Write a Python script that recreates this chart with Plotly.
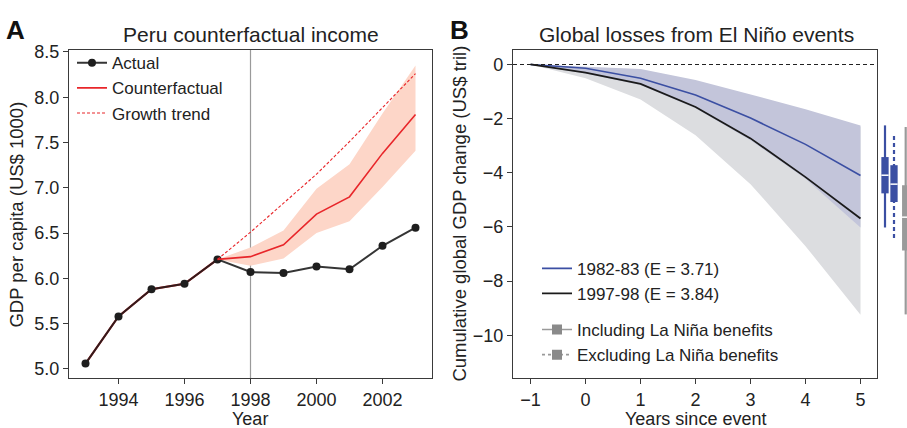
import plotly.graph_objects as go

# ---------------- Panel A data ----------------
years = [1993, 1994, 1995, 1996, 1997, 1998, 1999, 2000, 2001, 2002, 2003]
actual = [5.06, 5.58, 5.88, 5.94, 6.21, 6.07, 6.06, 6.13, 6.10, 6.36, 6.56]
cf_years = [1997, 1998, 1999, 2000, 2001, 2002, 2003]
counterfactual = [6.21, 6.24, 6.37, 6.71, 6.90, 7.38, 7.81]
cf_low = [6.21, 6.14, 6.22, 6.50, 6.63, 7.01, 7.41]
cf_high = [6.21, 6.34, 6.53, 6.99, 7.26, 7.82, 8.35]
growth_trend = [6.21, 6.51, 6.83, 7.15, 7.51, 7.88, 8.26]

# ---------------- Panel B data ----------------
t_years = [-1, 0, 1, 2, 3, 4, 5]
e8283 = [0, -0.14, -0.51, -1.13, -1.98, -2.95, -4.10]
e8283_low = [0, -0.33, -0.76, -1.62, -2.80, -4.22, -6.02]
e8283_high = [0, -0.08, -0.17, -0.57, -1.11, -1.65, -2.25]
e9798 = [0, -0.30, -0.72, -1.57, -2.73, -4.16, -5.69]
e9798_low = [0, -0.51, -1.29, -2.61, -4.42, -6.71, -9.24]
e9798_high = [0, -0.09, -0.19, -0.60, -1.14, -1.70, -2.30]

# box summaries at year 5: [lower whisker, q1, median, q3, upper whisker]
box_names = ["1982-83 incl.", "1982-83 excl.", "1997-98 incl."]
box_pos = [7.0, 16.0, 27.7]
box_low = [-6.02, -6.41, -9.23]
box_q1 = [-4.76, -5.08, -6.87]
box_med = [-4.09, -4.42, -5.64]
box_q3 = [-3.42, -3.72, -4.46]
box_high = [-2.25, -2.53, -2.31]
box_colors = ["#3b4fa3", "#3b4fa3", "#9a9a9a"]
box_dash = ["solid", "4px,3px", "solid"]

FONT = "Liberation Sans, Arial, sans-serif"
RED = "#e8262a"
BLUE = "#3b4fa3"
TXT = "#222222"

fig = go.Figure()

# ---- Panel A ----
fig.add_trace(go.Scatter(x=cf_years, y=cf_high, mode="lines", line=dict(width=0),
                         showlegend=False, hoverinfo="skip", xaxis="x", yaxis="y"))
fig.add_trace(go.Scatter(x=cf_years, y=cf_low, mode="lines", line=dict(width=0),
                         fill="tonexty", fillcolor="#fdd6c8", showlegend=False,
                         hoverinfo="skip", xaxis="x", yaxis="y"))
fig.add_trace(go.Scatter(x=years[:5], y=actual[:5], mode="lines", line=dict(color=RED, width=2),
                         showlegend=False, hoverinfo="skip", xaxis="x", yaxis="y"))
fig.add_trace(go.Scatter(x=years, y=actual, mode="lines+markers", name="Actual",
                         line=dict(color="rgba(25,25,25,0.88)", width=2),
                         marker=dict(color="#1e1e1e", size=8),
                         xaxis="x", yaxis="y", legend="legend"))
fig.add_trace(go.Scatter(x=cf_years, y=counterfactual, mode="lines", name="Counterfactual",
                         line=dict(color=RED, width=1.6), xaxis="x", yaxis="y",
                         legend="legend"))
fig.add_trace(go.Scatter(x=cf_years, y=growth_trend, mode="lines", name="Growth trend",
                         line=dict(color=RED, width=1.1, dash="3px,2px"),
                         xaxis="x", yaxis="y", legend="legend"))

# ---- Panel B ----
fig.add_trace(go.Scatter(x=t_years, y=e9798_high, mode="lines", line=dict(width=0),
                         showlegend=False, hoverinfo="skip", xaxis="x2", yaxis="y2"))
fig.add_trace(go.Scatter(x=t_years, y=e9798_low, mode="lines", line=dict(width=0),
                         fill="tonexty", fillcolor="#dcdde0", showlegend=False,
                         hoverinfo="skip", xaxis="x2", yaxis="y2"))
fig.add_trace(go.Scatter(x=t_years, y=e8283_high, mode="lines", line=dict(width=0),
                         showlegend=False, hoverinfo="skip", xaxis="x2", yaxis="y2"))
fig.add_trace(go.Scatter(x=t_years, y=e8283_low, mode="lines", line=dict(width=0),
                         fill="tonexty", fillcolor="#c3c5da", showlegend=False,
                         hoverinfo="skip", xaxis="x2", yaxis="y2"))
fig.add_trace(go.Scatter(x=t_years, y=e8283, mode="lines", name="1982-83 (E = 3.71)",
                         line=dict(color=BLUE, width=1.6), xaxis="x2", yaxis="y2",
                         legend="legend2", legendgroup="ev"))
fig.add_trace(go.Scatter(x=t_years, y=e9798, mode="lines", name="1997-98 (E = 3.84)",
                         line=dict(color="#1a1a1a", width=1.8), xaxis="x2", yaxis="y2",
                         legend="legend2", legendgroup="ev"))
fig.add_trace(go.Scatter(x=[None], y=[None], mode="lines+markers",
                         name="Including La Niña benefits",
                         line=dict(color="#9a9a9a", width=1.6),
                         marker=dict(symbol="square", size=10, color="#8a8a8a"),
                         xaxis="x2", yaxis="y2", legend="legend2", legendgroup="ln"))
fig.add_trace(go.Scatter(x=[None], y=[None], mode="lines+markers",
                         name="Excluding La Niña benefits",
                         line=dict(color="#9a9a9a", width=1.6, dash="dot"),
                         marker=dict(symbol="square", size=10, color="#8a8a8a"),
                         xaxis="x2", yaxis="y2", legend="legend2", legendgroup="ln"))

# ---- Box summaries (right of panel B) ----
BW = 7.3
for i in range(len(box_names)):
    p = box_pos[i]
    fig.add_trace(go.Scatter(x=[p, p], y=[box_low[i], box_high[i]], mode="lines",
                             line=dict(color=box_colors[i], width=2.2, dash=box_dash[i]),
                             showlegend=False, hoverinfo="skip", xaxis="x3", yaxis="y2"))
    fig.add_trace(go.Bar(x=[p], y=[box_q3[i] - box_q1[i]], base=[box_q1[i]], width=BW,
                         marker=dict(color=box_colors[i], line=dict(width=0)),
                         showlegend=False, hoverinfo="skip", xaxis="x3", yaxis="y2"))
    fig.add_trace(go.Scatter(x=[p - BW / 2, p + BW / 2], y=[box_med[i], box_med[i]],
                             mode="lines", line=dict(color="white", width=1.5),
                             showlegend=False, hoverinfo="skip", xaxis="x3", yaxis="y2"))

W, H = 907, 428
def px(x):
    return x / W
def py(y):
    return 1 - y / H

axis_common = dict(showline=True, linecolor="#3a3a3a", linewidth=1.3, mirror=True,
                   ticks="outside", ticklen=5, tickwidth=1.2, tickcolor="#3a3a3a",
                   showgrid=False, zeroline=False,
                   tickfont=dict(family=FONT, size=18, color=TXT))

def label(text, x, y, size, angle=0, bold=False):
    return dict(text=("<b>%s</b>" % text) if bold else text, x=px(x), y=py(y),
                xref="paper", yref="paper", xanchor="center", yanchor="middle",
                showarrow=False, textangle=angle,
                font=dict(family=FONT, size=size, color="#111111" if bold else TXT))

fig.update_layout(
    width=W, height=H, margin=dict(l=0, r=0, t=0, b=0),
    paper_bgcolor="white", plot_bgcolor="white",
    font=dict(family=FONT, color=TXT),
    barmode="overlay",
    xaxis=dict(domain=[px(69), px(432)], range=[1992.5, 2003.5],
               tickvals=[1994, 1996, 1998, 2000, 2002], anchor="y", **axis_common),
    yaxis=dict(domain=[py(378), py(43)], range=[4.9, 8.52],
               tickvals=[5.0, 5.5, 6.0, 6.5, 7.0, 7.5, 8.0, 8.5], tickformat=".1f",
               anchor="x", **axis_common),
    xaxis2=dict(domain=[px(513), px(877)], range=[-1.32, 5.3],
                tickvals=[-1, 0, 1, 2, 3, 4, 5], anchor="y2", **axis_common),
    yaxis2=dict(domain=[py(378), py(43)], range=[-11.58, 0.53],
                tickvals=[0, -2, -4, -6, -8, -10], anchor="x2", **axis_common),
    xaxis3=dict(domain=[px(878), 1.0], range=[0, 29], visible=False, anchor="y2",
                fixedrange=True),
    legend=dict(x=px(72), y=py(38), xanchor="left", yanchor="top", traceorder="normal",
                bgcolor="rgba(0,0,0,0)", font=dict(family=FONT, size=17, color=TXT),
                itemwidth=30, tracegroupgap=0),
    legend2=dict(x=px(537), y=py(248), xanchor="left", yanchor="top",
                 bgcolor="rgba(0,0,0,0)", font=dict(family=FONT, size=17, color=TXT),
                 traceorder="grouped", tracegroupgap=11, itemwidth=30),
    shapes=[
        dict(type="line", xref="x", yref="y domain", x0=1998, x1=1998, y0=0, y1=1,
             line=dict(color="#9a9a9a", width=1.2), layer="below"),
        dict(type="line", xref="x2 domain", yref="y2", x0=0, x1=1, y0=0, y1=0,
             line=dict(color="#222222", width=1.1, dash="4px,3px")),
    ],
    annotations=[
        label("A", 15, 22, 26, bold=True),
        label("B", 459, 22, 26, bold=True),
        label("Peru counterfactual income", 251, 27, 21),
        label("Global losses from El Niño events", 696, 27, 21),
        label("Year", 250, 419.5, 18),
        label("Years since event", 695, 419.5, 18),
        label("GDP per capita (US$ 1000)", 17, 211, 18.5, angle=-90),
        label("Cumulative global GDP change (US$ tril)", 460, 210, 18.5, angle=-90),
    ],
)

fig.write_html("out.html")
